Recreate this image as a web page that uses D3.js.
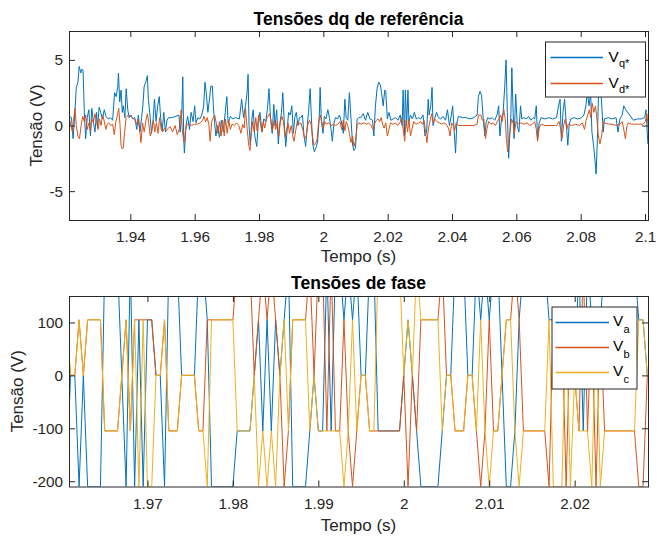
<!DOCTYPE html>
<html><head><meta charset="utf-8">
<script src="https://cdn.jsdelivr.net/npm/d3@7"></script>
<style>
body{margin:0;background:#fff}
text{font-family:"Liberation Sans",Arial,Helvetica,sans-serif}
</style>
</head><body>
<svg id="c" width="661" height="536"></svg>
<script>
// ---------- DATA ----------
const vqData=[[1.9210,0.7],[1.9217,0.6],[1.9222,-1.0],[1.9227,0.8],[1.9232,2.9],[1.9237,3.3],[1.9241,4.5],[1.9246,4.0],[1.9249,4.3],[1.9253,4.2],[1.9257,1.0],[1.9261,-1.0],[1.9266,0.6],[1.9271,1.2],[1.9276,-0.8],[1.9280,1.3],[1.9285,0.3],[1.9290,-0.5],[1.9295,1.0],[1.9298,-0.2],[1.9303,1.4],[1.9308,1.0],[1.9313,0.5],[1.9319,1.2],[1.9324,0.7],[1.9331,0.5],[1.9338,0.6],[1.9345,0.4],[1.9351,2.5],[1.9356,2.2],[1.9361,3.0],[1.9363,4.0],[1.9367,1.8],[1.9371,2.7],[1.9375,1.0],[1.9378,1.5],[1.9383,0.6],[1.9387,2.8],[1.9392,1.2],[1.9396,0.6],[1.9402,0.8],[1.9408,0.5],[1.9414,0.6],[1.9420,-0.3],[1.9425,0.8],[1.9430,-0.5],[1.9435,0.6],[1.9439,1.5],[1.9443,3.0],[1.9448,3.3],[1.9453,3.8],[1.9456,2.0],[1.9461,0.8],[1.9466,-0.6],[1.9471,0.5],[1.9475,2.0],[1.9480,0.3],[1.9485,1.5],[1.9490,2.2],[1.9494,0.6],[1.9499,-0.4],[1.9504,1.0],[1.9509,-0.5],[1.9514,0.4],[1.9519,0.6],[1.9530,0.6],[1.9542,0.7],[1.9551,0.8],[1.9555,-0.5],[1.9560,1.0],[1.9563,3.7],[1.9566,-1.0],[1.9568,-2.1],[1.9573,0.0],[1.9578,0.7],[1.9584,-0.3],[1.9589,1.0],[1.9595,0.3],[1.9600,1.5],[1.9604,0.2],[1.9610,0.6],[1.9616,0.5],[1.9622,0.8],[1.9628,1.5],[1.9632,3.3],[1.9636,2.5],[1.9641,1.0],[1.9646,2.0],[1.9650,3.0],[1.9655,3.0],[1.9658,1.5],[1.9662,0.2],[1.9666,-0.8],[1.9671,0.0],[1.9677,-0.9],[1.9683,0.4],[1.9689,-0.5],[1.9695,1.0],[1.9700,2.2],[1.9704,0.2],[1.9711,0.7],[1.9718,0.5],[1.9727,0.6],[1.9739,0.5],[1.9746,2.0],[1.9752,0.6],[1.9758,1.5],[1.9763,2.5],[1.9766,3.9],[1.9769,0.0],[1.9773,-1.5],[1.9778,0.5],[1.9782,1.2],[1.9787,-0.8],[1.9793,-1.6],[1.9798,0.3],[1.9803,1.0],[1.9809,-0.5],[1.9815,0.5],[1.9821,0.3],[1.9826,1.2],[1.9831,2.8],[1.9836,0.5],[1.9841,-0.6],[1.9846,1.6],[1.9850,0.0],[1.9855,1.2],[1.9860,-1.4],[1.9865,0.2],[1.9870,1.0],[1.9874,2.5],[1.9878,0.5],[1.9883,-1.6],[1.9887,-0.5],[1.9892,1.0],[1.9897,0.8],[1.9902,1.5],[1.9907,-0.6],[1.9911,0.6],[1.9916,1.0],[1.9921,0.0],[1.9926,0.6],[1.9930,0.6],[1.9935,0.8],[1.9940,-0.8],[1.9945,-1.6],[1.9950,0.0],[1.9954,1.0],[1.9959,2.8],[1.9963,0.5],[1.9967,-1.4],[1.9972,-2.0],[1.9977,-1.7],[1.9982,-1.3],[1.9987,0.5],[1.9990,2.9],[1.9994,0.3],[1.9999,-0.6],[2.0003,0.7],[2.0008,0.5],[2.0014,1.2],[2.0019,0.6],[2.0024,-0.3],[2.0028,-1.2],[2.0033,0.2],[2.0038,0.6],[2.0044,0.5],[2.0050,0.8],[2.0056,0.3],[2.0062,-0.6],[2.0067,2.0],[2.0071,0.6],[2.0076,0.4],[2.0081,2.5],[2.0086,0.5],[2.0091,-1.5],[2.0095,-1.9],[2.0100,-1.7],[2.0105,0.5],[2.0110,0.6],[2.0117,0.6],[2.0124,0.9],[2.0131,0.4],[2.0138,1.0],[2.0145,0.5],[2.0153,0.4],[2.0157,-0.8],[2.0162,1.5],[2.0167,2.8],[2.0172,3.3],[2.0177,3.1],[2.0181,2.5],[2.0186,1.5],[2.0191,2.7],[2.0194,2.6],[2.0199,0.5],[2.0204,1.0],[2.0210,0.4],[2.0217,0.5],[2.0224,0.6],[2.0232,0.4],[2.0239,0.8],[2.0245,0.0],[2.0248,2.7],[2.0252,-0.8],[2.0255,2.7],[2.0259,0.0],[2.0263,2.7],[2.0266,0.3],[2.0271,0.8],[2.0277,0.5],[2.0283,1.0],[2.0289,0.5],[2.0296,0.6],[2.0303,0.5],[2.0310,0.8],[2.0316,-0.8],[2.0321,-0.5],[2.0326,2.0],[2.0329,0.8],[2.0334,1.5],[2.0338,2.9],[2.0341,0.0],[2.0346,0.5],[2.0352,1.0],[2.0358,0.6],[2.0365,0.5],[2.0372,0.7],[2.0380,0.4],[2.0386,1.2],[2.0392,0.0],[2.0398,0.8],[2.0402,1.5],[2.0407,-0.5],[2.0411,-2.1],[2.0415,0.2],[2.0420,0.7],[2.0432,0.6],[2.0444,0.6],[2.0456,0.5],[2.0468,0.6],[2.0478,0.8],[2.0482,2.2],[2.0487,2.6],[2.0492,2.3],[2.0497,0.5],[2.0502,-0.8],[2.0506,0.2],[2.0511,0.6],[2.0518,0.5],[2.0525,0.6],[2.0533,0.4],[2.0540,0.8],[2.0545,1.5],[2.0549,-0.8],[2.0554,0.5],[2.0559,1.0],[2.0564,3.0],[2.0568,5.0],[2.0572,1.0],[2.0576,-2.5],[2.0579,-1.0],[2.0583,0.8],[2.0586,4.4],[2.0590,1.0],[2.0593,-1.0],[2.0598,2.4],[2.0603,0.0],[2.0608,-0.5],[2.0613,1.5],[2.0617,0.5],[2.0623,0.6],[2.0631,0.5],[2.0638,0.7],[2.0645,0.4],[2.0652,0.6],[2.0657,0.5],[2.0662,1.5],[2.0666,-1.0],[2.0671,0.2],[2.0677,0.6],[2.0689,0.5],[2.0701,0.6],[2.0713,0.5],[2.0725,0.6],[2.0731,1.5],[2.0736,2.0],[2.0740,-1.2],[2.0745,1.0],[2.0750,2.0],[2.0755,0.2],[2.0760,-1.5],[2.0764,0.0],[2.0769,0.5],[2.0779,0.6],[2.0791,0.5],[2.0803,0.6],[2.0810,0.8],[2.0816,1.5],[2.0821,2.5],[2.0826,1.5],[2.0831,2.5],[2.0835,-0.5],[2.0840,-1.5],[2.0844,-2.5],[2.0848,-3.7],[2.0852,-1.0],[2.0855,2.0],[2.0860,3.0],[2.0865,1.8],[2.0870,-0.5],[2.0874,0.5],[2.0886,0.6],[2.0898,0.5],[2.0910,0.6],[2.0916,-0.5],[2.0922,0.5],[2.0929,0.8],[2.0934,1.5],[2.0940,1.2],[2.0952,0.8],[2.0964,0.4],[2.0976,0.5],[2.0988,0.5],[2.0999,0.6],[2.1003,1.2],[2.1009,-1.4]];

const vdData=[[1.9210,0.6],[1.9215,0.0],[1.9220,-0.5],[1.9223,0.3],[1.9228,1.3],[1.9232,0.0],[1.9237,-0.8],[1.9242,-1.0],[1.9247,0.0],[1.9252,0.7],[1.9257,0.3],[1.9261,0.8],[1.9266,-0.3],[1.9271,0.2],[1.9276,-0.5],[1.9280,0.5],[1.9285,0.2],[1.9290,0.9],[1.9295,0.3],[1.9300,-0.3],[1.9304,0.5],[1.9309,0.0],[1.9314,0.8],[1.9319,0.3],[1.9324,-0.3],[1.9328,0.1],[1.9333,0.2],[1.9339,0.0],[1.9345,0.1],[1.9350,-0.7],[1.9355,0.3],[1.9360,0.8],[1.9364,1.3],[1.9368,0.0],[1.9371,-1.5],[1.9375,-1.8],[1.9378,-1.7],[1.9382,-0.5],[1.9387,0.6],[1.9393,0.8],[1.9400,0.7],[1.9407,0.6],[1.9414,0.4],[1.9419,0.1],[1.9424,0.5],[1.9429,-0.3],[1.9433,-1.3],[1.9438,0.2],[1.9443,-0.5],[1.9448,0.3],[1.9453,0.9],[1.9457,0.2],[1.9462,-0.8],[1.9467,-0.3],[1.9472,0.4],[1.9476,-0.5],[1.9481,0.2],[1.9486,-0.6],[1.9491,0.6],[1.9496,-0.3],[1.9500,-0.5],[1.9506,-0.2],[1.9512,-0.4],[1.9518,-0.2],[1.9524,-0.1],[1.9531,-0.5],[1.9539,0.0],[1.9546,-0.7],[1.9553,-0.2],[1.9558,1.2],[1.9562,-0.5],[1.9567,-1.3],[1.9572,-0.3],[1.9577,0.1],[1.9584,0.1],[1.9591,0.0],[1.9599,0.1],[1.9608,0.1],[1.9617,0.2],[1.9625,0.4],[1.9629,0.7],[1.9634,0.3],[1.9639,0.6],[1.9644,0.1],[1.9648,-1.2],[1.9653,0.3],[1.9658,0.6],[1.9662,0.8],[1.9667,0.2],[1.9672,-0.6],[1.9677,0.3],[1.9682,-0.8],[1.9687,0.4],[1.9692,-0.8],[1.9696,0.5],[1.9701,-0.6],[1.9706,0.4],[1.9711,-0.3],[1.9716,0.1],[1.9723,0.0],[1.9730,0.2],[1.9737,0.0],[1.9744,-0.6],[1.9749,0.1],[1.9754,-0.2],[1.9758,1.3],[1.9763,-0.2],[1.9768,-1.5],[1.9772,-1.9],[1.9775,-1.0],[1.9780,0.3],[1.9785,-0.5],[1.9790,0.6],[1.9794,-0.4],[1.9799,0.8],[1.9804,0.2],[1.9809,-0.5],[1.9813,0.3],[1.9818,-0.2],[1.9823,0.5],[1.9828,0.7],[1.9833,0.9],[1.9838,0.3],[1.9842,-0.4],[1.9847,0.4],[1.9852,-0.3],[1.9857,0.3],[1.9861,-0.8],[1.9866,0.2],[1.9871,0.7],[1.9876,0.3],[1.9881,-0.9],[1.9886,-0.3],[1.9890,0.2],[1.9895,-0.6],[1.9900,0.0],[1.9905,-0.8],[1.9909,-1.2],[1.9914,-0.4],[1.9919,0.3],[1.9924,0.1],[1.9930,0.2],[1.9936,-0.3],[1.9942,-1.0],[1.9947,-0.8],[1.9952,0.1],[1.9957,0.4],[1.9962,0.1],[1.9966,-0.8],[1.9971,-1.5],[1.9976,-1.4],[1.9981,-1.0],[1.9985,0.2],[1.9990,0.8],[1.9995,0.3],[2.0000,-0.2],[2.0004,0.3],[2.0009,0.1],[2.0016,0.2],[2.0024,0.0],[2.0031,0.1],[2.0038,0.0],[2.0045,0.1],[2.0052,0.3],[2.0057,-0.3],[2.0062,0.4],[2.0067,-0.4],[2.0071,0.3],[2.0076,0.0],[2.0081,-0.6],[2.0086,-1.3],[2.0091,-0.8],[2.0095,-1.6],[2.0100,-1.2],[2.0105,0.0],[2.0110,0.2],[2.0117,0.1],[2.0126,0.2],[2.0134,0.1],[2.0141,0.2],[2.0148,0.0],[2.0155,-0.3],[2.0160,0.2],[2.0165,0.4],[2.0170,0.5],[2.0175,0.3],[2.0180,0.6],[2.0184,0.1],[2.0189,-0.2],[2.0194,0.2],[2.0199,-0.8],[2.0204,-0.3],[2.0209,0.2],[2.0216,0.1],[2.0224,0.2],[2.0231,0.0],[2.0238,0.2],[2.0243,0.6],[2.0248,-0.2],[2.0253,-1.2],[2.0257,0.4],[2.0262,-0.5],[2.0266,0.5],[2.0271,-0.8],[2.0276,-0.2],[2.0281,0.3],[2.0288,0.1],[2.0296,0.2],[2.0303,0.3],[2.0308,0.1],[2.0313,0.4],[2.0318,-0.5],[2.0322,-1.3],[2.0327,-0.2],[2.0332,0.4],[2.0337,0.9],[2.0341,0.2],[2.0346,0.5],[2.0353,0.3],[2.0361,0.2],[2.0368,0.1],[2.0375,0.2],[2.0382,0.1],[2.0389,-0.2],[2.0394,-0.8],[2.0399,0.2],[2.0404,0.0],[2.0408,-0.4],[2.0413,0.2],[2.0420,0.0],[2.0432,0.0],[2.0444,0.0],[2.0456,0.0],[2.0468,0.0],[2.0478,0.1],[2.0482,0.8],[2.0490,0.8],[2.0494,0.4],[2.0499,0.5],[2.0504,-1.0],[2.0509,-0.2],[2.0514,0.3],[2.0521,0.1],[2.0528,0.2],[2.0535,0.0],[2.0541,0.3],[2.0546,0.5],[2.0551,0.8],[2.0556,0.3],[2.0561,1.2],[2.0566,0.4],[2.0569,-1.0],[2.0573,-2.0],[2.0576,-1.3],[2.0580,-0.5],[2.0585,0.5],[2.0590,0.2],[2.0594,-0.6],[2.0599,0.3],[2.0607,0.1],[2.0614,0.2],[2.0623,0.1],[2.0633,0.2],[2.0642,0.0],[2.0650,0.1],[2.0657,0.3],[2.0662,-0.3],[2.0666,-1.2],[2.0671,-0.2],[2.0677,0.1],[2.0689,0.0],[2.0707,0.0],[2.0725,0.0],[2.0733,0.3],[2.0738,-0.3],[2.0742,-1.0],[2.0747,0.0],[2.0752,0.5],[2.0757,-0.3],[2.0761,0.1],[2.0772,0.0],[2.0784,0.1],[2.0796,0.0],[2.0805,0.2],[2.0812,-0.3],[2.0817,0.4],[2.0822,0.8],[2.0827,1.2],[2.0831,0.6],[2.0836,1.7],[2.0841,1.0],[2.0846,1.5],[2.0850,0.6],[2.0855,-0.8],[2.0860,-1.4],[2.0865,-0.8],[2.0870,0.3],[2.0874,0.2],[2.0886,0.1],[2.0898,0.1],[2.0910,0.0],[2.0922,0.1],[2.0929,0.3],[2.0934,-0.3],[2.0939,-1.0],[2.0944,0.0],[2.0948,0.2],[2.0958,0.1],[2.0970,0.1],[2.0982,0.1],[2.0994,0.1],[2.1001,0.3],[2.1006,0.9],[2.1011,-0.5]];

// phase voltages, sampled every 0.5 ms starting at 1.9605 s
const phaseStart=1.9605, phaseStep=0.0005;
const vaValues=[-210,0,0,-210,0,-210,-210,-210,-210,210, 210,210,210,0,-210,210,-210,105,-210,105, 105,0,0,-210,210,210,210,0,0,0, 0,210,210,105,-210,-210,-210,-210,-210,-210, -105,-105,-105,-105,0,105,-105,105,-105,105, 0,105,210,-210,-210,-210,-210,-105,0,-105, -105,210,-105,210,210,105,210,105,210,0, 0,210,210,-105,-105,-105,-105,-105,-105,0, 105,0,-105,-210,-210,-210,-210,-210,-105,0, 0,210,210,210,0,0,210,105,210,105, 210,210,0,-210,-210,-105,105,210,210,210, 210,210,210,105,105,105,105,105,105,0, 210,-105,210,105,105,105,210,210,210,210, 210,210,210,210,105,105,0,0,0];
const vbValues=[105,0,0,105,0,105,105,105,105,-105, -105,-105,-105,0,105,-105,105,105,105,105, 105,0,0,105,-105,-105,-105,0,0,0, 0,-105,-105,105,105,105,105,105,105,105, 210,210,210,210,0,105,210,105,210,105, 0,-210,-105,105,105,105,105,210,0,210, 210,-105,210,-105,-105,105,-105,-210,-105,0, 0,-105,-105,-105,-105,-105,-105,-105,-105,0, -210,0,-105,105,105,105,105,105,210,0, 0,-105,-105,-105,0,0,-105,-210,-105,105, -105,-105,0,105,105,210,105,-105,-105,-105, -105,-105,-105,-210,105,105,105,-210,105,0, -105,210,-105,105,-210,105,-105,-105,-105,-105, -105,-105,-105,-105,-210,-210,0,0,0];
const vcValues=[105,0,0,105,0,105,105,105,105,-105, -105,-105,-105,0,105,-105,105,-210,105,-210, -210,0,0,105,-105,-105,-105,0,0,0, 0,-105,-105,-210,105,105,105,105,105,105, -105,-105,-105,-105,0,-210,-105,-210,-105,-210, 0,105,-105,105,105,105,105,-105,0,-105, -105,-105,-105,-105,-105,-210,-105,105,-105,0, 0,-105,-105,210,210,210,210,210,210,0, 105,0,210,105,105,105,105,105,-105,0, 0,-105,-105,-105,0,0,-105,105,-105,-210, -105,-105,0,105,105,-105,-210,-105,-105,-105, -105,-105,-105,105,-210,-210,-210,105,-210,0, -105,-105,-105,-210,105,-210,-105,-105,-105,-105, -105,-105,-105,-105,105,105,0,0,0];

const topXTicks=[1.94,1.96,1.98,2.0,2.02,2.04,2.06,2.08,2.1];
const topXLabels=["1.94","1.96","1.98","2","2.02","2.04","2.06","2.08","2.1"];
const topYTicks=[-5,0,5];
const topYLabels=["-5","0","5"];
const botXTicks=[1.97,1.98,1.99,2.0,2.01,2.02];
const botXLabels=["1.97","1.98","1.99","2","2.01","2.02"];
const botYTicks=[-200,-100,0,100];
const botYLabels=["-200","-100","0","100"];

// ---------- DRAW ----------
const C_BLUE="#0072BD", C_ORANGE="#D95319", C_YELLOW="#EDB120", C_AX="#262626";
const svg=d3.select("#c");
svg.append("rect").attr("width",661).attr("height",536).attr("fill","#fff");

const phaseTimes=vaValues.map((_,i)=>phaseStart+i*phaseStep);
const zipT=(vals)=>vals.map((v,i)=>[phaseTimes[i],v]);

function drawPanel(p){
  const x=d3.scaleLinear().domain(p.xDomain).range([p.left,p.right]);
  const y=d3.scaleLinear().domain(p.yDomain).range([p.bottom,p.top]);
  const g=svg.append("g");
  const cid="clip"+p.id;
  svg.append("clipPath").attr("id",cid).append("rect")
    .attr("x",p.left).attr("y",p.top).attr("width",p.right-p.left).attr("height",p.bottom-p.top);
  const lg=g.append("g").attr("clip-path",`url(#${cid})`);
  const line=d3.line().x(d=>x(d[0])).y(d=>y(d[1]));
  p.series.forEach(s=>{
    lg.append("path").datum(s.data).attr("fill","none").attr("stroke",s.color)
      .attr("stroke-width",1).attr("stroke-linejoin","round").attr("d",line);
  });
  const style=(sel)=>{
    sel.select(".domain").remove();
    sel.selectAll(".tick line").attr("stroke",C_AX);
    sel.selectAll(".tick text").attr("fill",C_AX).attr("font-size","15.3px")
      .attr("font-family",'"Liberation Sans",Arial,sans-serif');
  };
  g.append("g").attr("transform",`translate(0,${p.bottom})`)
    .call(d3.axisBottom(x).tickValues(p.xTicks).tickFormat((d,i)=>p.xLabels[i]).tickSizeInner(-6).tickSizeOuter(0).tickPadding(11.5)).call(style);
  g.append("g").attr("transform",`translate(0,${p.top})`)
    .call(d3.axisTop(x).tickValues(p.xTicks).tickFormat("").tickSizeInner(-6).tickSizeOuter(0)).call(style);
  g.append("g").attr("transform",`translate(${p.left},0)`)
    .call(d3.axisLeft(y).tickValues(p.yTicks).tickFormat((d,i)=>p.yLabels[i]).tickSizeInner(-6).tickSizeOuter(0).tickPadding(6)).call(style);
  g.append("g").attr("transform",`translate(${p.right},0)`)
    .call(d3.axisRight(y).tickValues(p.yTicks).tickFormat("").tickSizeInner(-6).tickSizeOuter(0)).call(style);
  g.append("rect").attr("x",p.left+0.5).attr("y",p.top+0.5).attr("width",p.right-p.left).attr("height",p.bottom-p.top)
    .attr("fill","none").attr("stroke",C_AX).attr("stroke-width",1);
  // title & labels
  g.append("text").attr("x",(p.left+p.right)/2).attr("y",p.titleY).attr("text-anchor","middle")
    .attr("font-size","17.5px").attr("font-weight","bold").attr("fill","#000").text(p.title);
  g.append("text").attr("x",(p.left+p.right)/2).attr("y",p.xLabelY).attr("text-anchor","middle")
    .attr("font-size","17px").attr("fill",C_AX).text("Tempo (s)");
  g.append("text").attr("transform",`translate(${p.yLabelX},${(p.top+p.bottom)/2}) rotate(-90)`).attr("text-anchor","middle")
    .attr("font-size","17px").attr("fill",C_AX).text("Tensão (V)");
  // legend
  const L=p.legend;
  const lgd=g.append("g");
  lgd.append("rect").attr("x",L.x+0.5).attr("y",L.y+0.5).attr("width",L.w).attr("height",L.h)
    .attr("fill","#fff").attr("stroke",C_AX).attr("stroke-width",1);
  p.series.forEach((s,i)=>{
    const ly=L.y+L.first+i*L.step;
    lgd.append("line").attr("x1",L.x+L.lx1).attr("x2",L.x+L.lx2).attr("y1",ly).attr("y2",ly)
      .attr("stroke",s.color).attr("stroke-width",1.3);
    lgd.append("text").attr("x",L.x+L.tx).attr("y",ly+L.base).attr("font-size","15.3px").attr("fill","#000").text("V");
    lgd.append("text").attr("x",L.x+L.tx+10.4).attr("y",ly+L.base+L.sub).attr("font-size","11px").attr("fill","#000").text(s.sub);
  });
}

drawPanel({
  id:"top", left:69, right:648, top:31, bottom:220,
  xDomain:[1.92093,2.10093], yDomain:[-7.2,7.2],
  xTicks:topXTicks, xLabels:topXLabels, yTicks:topYTicks, yLabels:topYLabels,
  title:"Tensões dq de referência", titleY:24.5, xLabelY:261.5, yLabelX:41.5,
  series:[{data:vqData,color:C_BLUE,sub:"q*"},{data:vdData,color:C_ORANGE,sub:"d*"}],
  legend:{x:545,y:41.5,w:100,h:55,first:16,step:26,lx1:5.5,lx2:58,tx:63.5,base:4,sub:5}
});
drawPanel({
  id:"bot", left:69, right:648, top:296, bottom:486.5,
  xDomain:[1.96082,2.02858], yDomain:[-210,150],
  xTicks:botXTicks, xLabels:botXLabels, yTicks:botYTicks, yLabels:botYLabels,
  title:"Tensões de fase", titleY:289, xLabelY:531, yLabelX:23,
  series:[{data:zipT(vaValues),color:C_BLUE,sub:"a"},{data:zipT(vbValues),color:C_ORANGE,sub:"b"},{data:zipT(vcValues),color:C_YELLOW,sub:"c"}],
  legend:{x:551.5,y:306.5,w:85,h:82,first:16,step:25,lx1:4,lx2:57.5,tx:61.5,base:3.5,sub:7}
});
</script>
</body></html>
